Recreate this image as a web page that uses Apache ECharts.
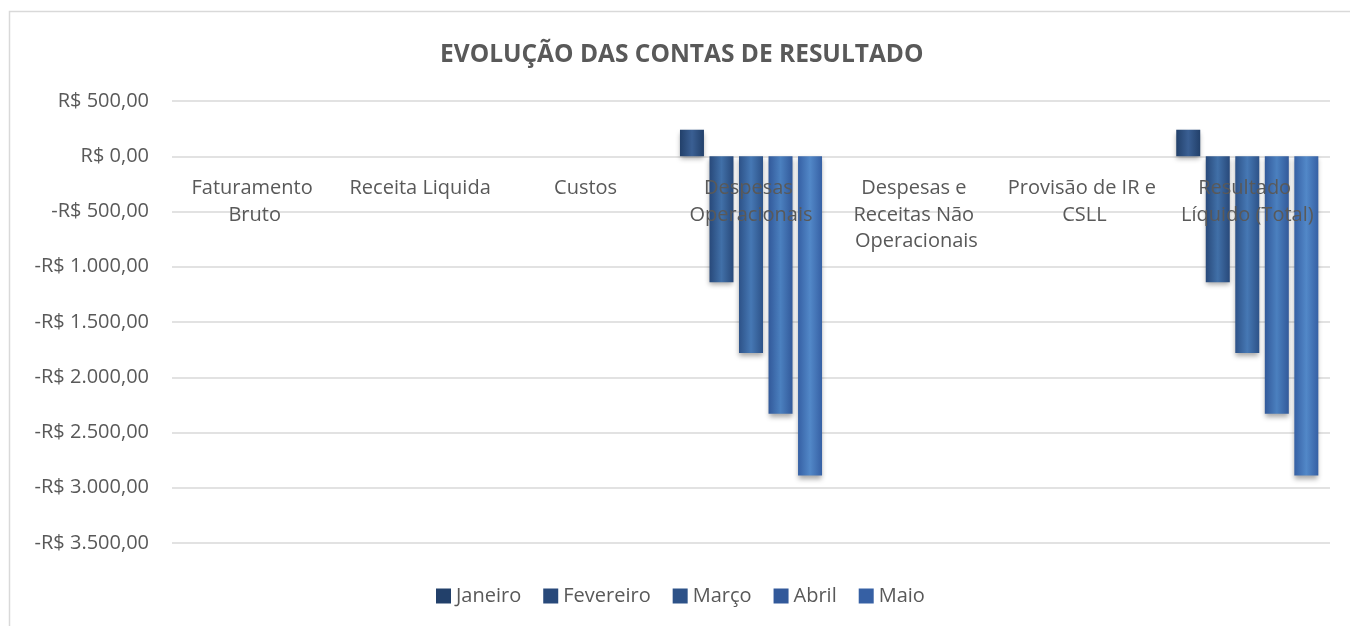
<!DOCTYPE html>
<html>
<head>
<meta charset="utf-8">
<script src="https://cdn.jsdelivr.net/npm/echarts@6/dist/echarts.min.js"></script>
<style>
  html, body { margin: 0; padding: 0; background: #fff; }
  #main { width: 1350px; height: 626px; }
</style>
</head>
<body>
<div id="main"></div>
<script>
// dados do grafico
var categorias = ['Faturamento Bruto', 'Receita Liquida', 'Custos', 'Despesas Operacionais',
    'Despesas e Receitas Não Operacionais', 'Provisão de IR e CSLL', 'Resultado Líquido (Total)'];
var meses = ['Janeiro', 'Fevereiro', 'Março', 'Abril', 'Maio'];
var janeiro   = [0, 0, 0, 240, 0, 0, 240];
var fevereiro = [0, 0, 0, -1140, 0, 0, -1140];
var marco     = [0, 0, 0, -1780, 0, 0, -1780];
var abril     = [0, 0, 0, -2330, 0, 0, -2330];
var maio      = [0, 0, 0, -2890, 0, 0, -2890];
var valores = [janeiro, fevereiro, marco, abril, maio];

var cores = [
    ['#22406a', '#3a5f93'],
    ['#28497a', '#4170a8'],
    ['#2d5288', '#4678b4'],
    ['#32599a', '#4b80bf'],
    ['#3660a4', '#5288c8']
];

function moeda(v) {
    var neg = v < 0;
    var s = Math.abs(v).toFixed(0).replace(/\B(?=(\d{3})+(?!\d))/g, '.');
    return (neg ? '-' : '') + 'R$ ' + s + ',00';
}

var chart = echarts.init(document.getElementById('main'));

var series = valores.map(function (d, i) {
    return {
        name: meses[i],
        type: 'bar',
        data: d,
        barWidth: 24,
        barGap: '23%',
        itemStyle: {
            color: new echarts.graphic.LinearGradient(0, 0, 1, 0, [
                { offset: 0, color: cores[i][0] },
                { offset: 0.5, color: cores[i][1] },
                { offset: 1, color: cores[i][0] }
            ]),
            shadowColor: 'rgba(0,0,0,0.35)',
            shadowBlur: 5,
            shadowOffsetY: 3
        }
    };
});

// altura do grid: 101 ate 543, o zero fica em 1/8 do topo
var gridTop = 101, gridBottom = 83;
var zeroOffset = -(626 - gridBottom - gridTop) * 7 / 8;

var option = {
    backgroundColor: '#fff',
    animation: false,
    textStyle: { fontFamily: 'Open Sans' },
    title: {
        text: 'EVOLUÇÃO DAS CONTAS DE RESULTADO',
        left: 435,
        top: 38,
        textStyle: { fontFamily: 'Open Sans', fontSize: 24.5, fontWeight: 'bold', color: '#595959' }
    },
    legend: {
        data: meses.map(function (m, i) {
            return { name: m, itemStyle: { color: cores[i][0] } };
        }),
        left: 436,
        top: 586,
        padding: 0,
        itemWidth: 15,
        itemHeight: 15,
        itemGap: 22,
        icon: 'rect',
        textStyle: { fontFamily: 'Open Sans', fontSize: 20, color: '#595959' }
    },
    grid: { left: 172, right: 20, top: gridTop, bottom: gridBottom, containLabel: false },
    xAxis: {
        type: 'category',
        data: categorias,
        z: 5,
        offset: zeroOffset,
        axisLine: { show: false },
        axisTick: { show: false },
        axisLabel: {
            interval: 0,
            margin: 19,
            width: 162,
            overflow: 'break',
            fontSize: 20,
            lineHeight: 26.5,
            color: '#595959',
            verticalAlign: 'top'
        }
    },
    yAxis: {
        type: 'value',
        min: -3500,
        max: 500,
        interval: 500,
        axisLine: { show: false },
        axisTick: { show: false },
        splitLine: { lineStyle: { color: '#d9d9d9', width: 1.5 } },
        axisLabel: {
            margin: 23,
            fontSize: 20,
            color: '#595959',
            formatter: moeda
        }
    },
    graphic: [{
        type: 'rect',
        shape: { x: 9.5, y: 11.5, width: 1400, height: 700 },
        style: { fill: 'none', stroke: '#d9d9d9', lineWidth: 1.5 },
        silent: true,
        z: -1
    }],
    series: series
};

chart.setOption(option);
</script>
</body>
</html>
